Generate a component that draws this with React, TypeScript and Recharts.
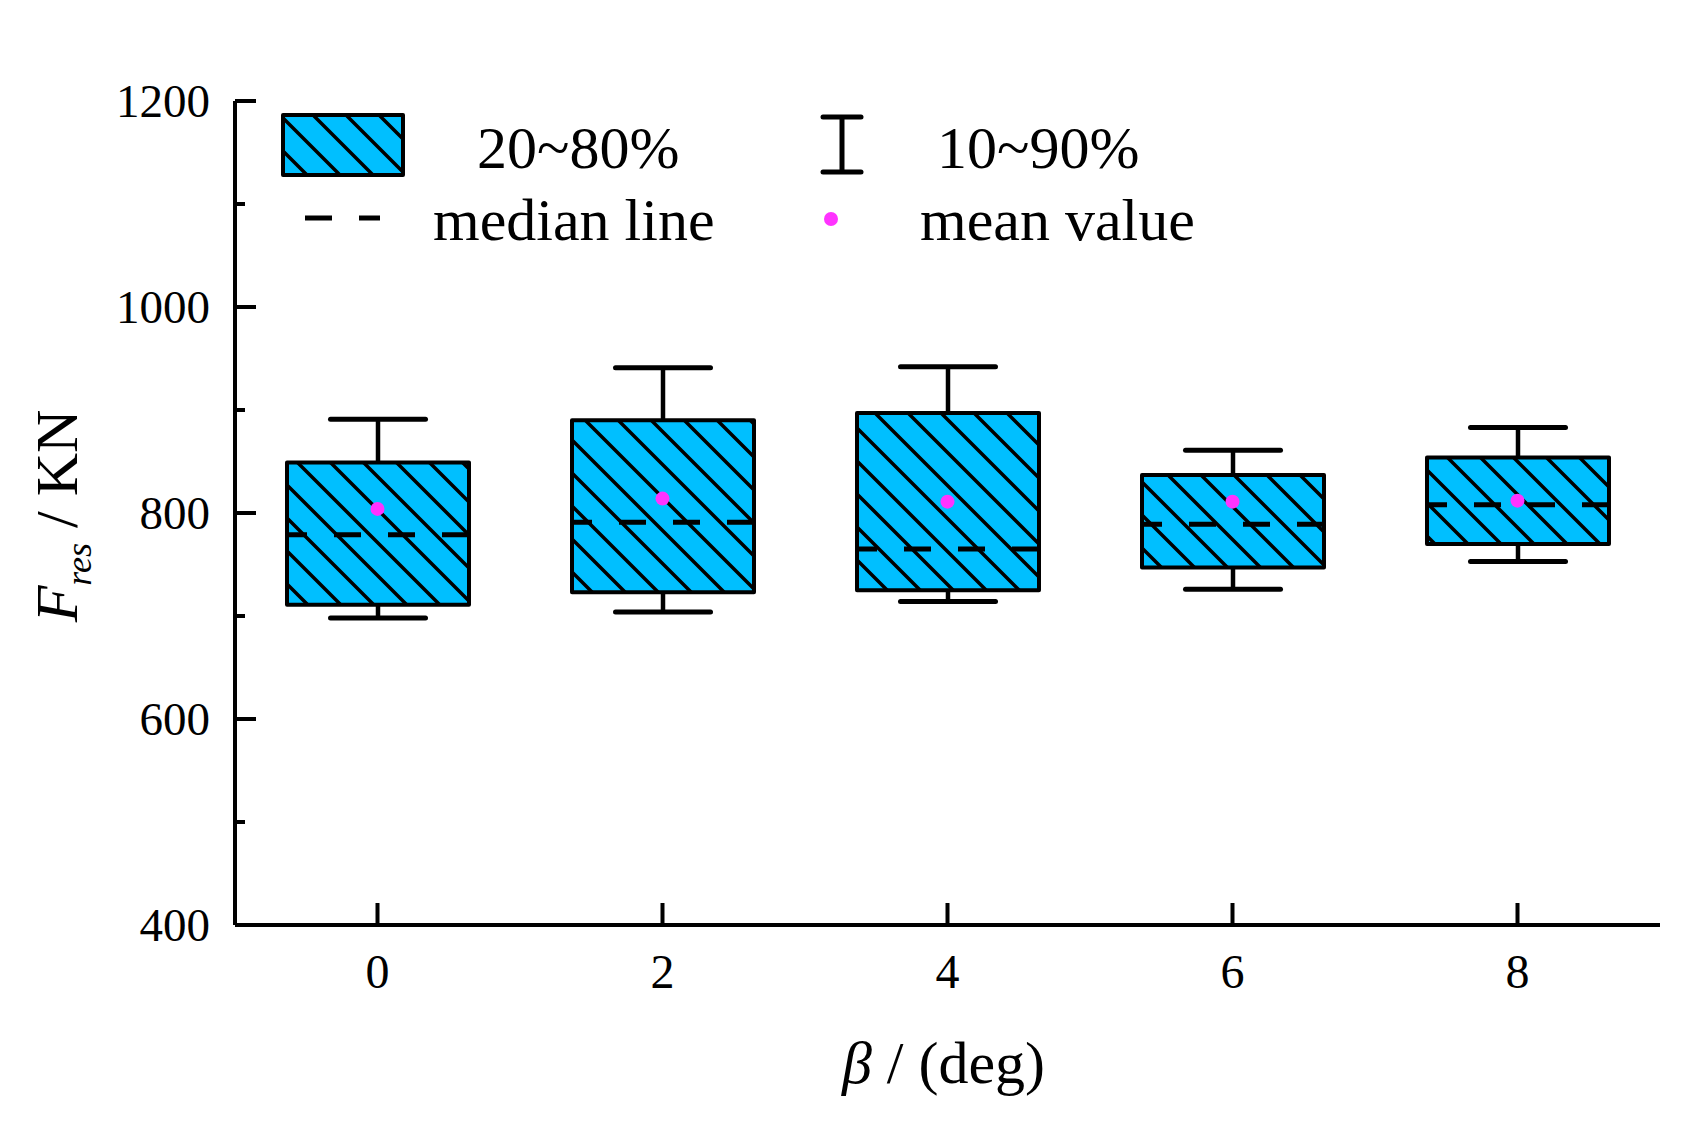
import { ComposedChart, Bar, Scatter, XAxis, YAxis, Legend } from 'recharts'

const categories = ['0', '2', '4', '6', '8']
const p10 = [698, 704, 714, 726, 753]
const p20 = [711, 723, 725, 747, 770]
const median = [779, 791, 765, 789, 808]
const p80 = [849, 890, 897, 837, 854]
const p90 = [891, 941, 942, 861, 883]
const mean = [804, 814, 811, 811, 812]
const yTicks = [400, 500, 600, 700, 800, 900, 1000, 1100, 1200]

const data = categories.map((beta, i) => ({
  beta,
  p10: p10[i],
  p20: p20[i],
  median: median[i],
  p80: p80[i],
  p90: p90[i],
  mean: mean[i],
}))

const FONT = '"Liberation Serif", "Times New Roman", serif'
const CYAN = '#00BFFF'
const PINK = '#FF33FF'

// box + whiskers, positioned from the bar's own [p10, p90] pixel range
function BoxShape(props: any) {
  const { x, y, width, height, payload } = props
  const top = Math.min(y, y + height)
  const h = Math.abs(height)
  const k = h / (payload.p90 - payload.p10)
  const py = (v: number) => top + (payload.p90 - v) * k
  const cx = x + width / 2
  const cap = 47.5
  const boxTop = py(payload.p80)
  const boxBot = py(payload.p20)
  return (
    <g>
      <line x1={cx} x2={cx} y1={py(payload.p90)} y2={boxTop} stroke="#000" strokeWidth={4.5} />
      <line x1={cx} x2={cx} y1={boxBot} y2={py(payload.p10)} stroke="#000" strokeWidth={4.5} />
      <line x1={cx - cap} x2={cx + cap} y1={py(payload.p90)} y2={py(payload.p90)} stroke="#000" strokeWidth={5} strokeLinecap="round" />
      <line x1={cx - cap} x2={cx + cap} y1={py(payload.p10)} y2={py(payload.p10)} stroke="#000" strokeWidth={5} strokeLinecap="round" />
      <rect x={x} y={boxTop} width={width} height={boxBot - boxTop} fill="url(#hatch)" stroke="#000" strokeWidth={4} strokeLinejoin="round" />
      <line
        x1={x} x2={x + width} y1={py(payload.median)} y2={py(payload.median)}
        stroke="#000" strokeWidth={5} strokeDasharray="27 27" strokeDashoffset={7}
      />
    </g>
  )
}

function YTick(props: any) {
  const { x, y, payload } = props
  const major = payload.value % 200 === 0
  return (
    <g>
      <line x1={x} x2={x + (major ? 21 : 10)} y1={y} y2={y} stroke="#000" strokeWidth={4} />
      {major && (
        <text x={x - 25} y={y} dy="0.35em" textAnchor="end" fontFamily={FONT} fontSize={47} fill="#000">
          {payload.value}
        </text>
      )}
    </g>
  )
}

function XTick(props: any) {
  const { x, y, payload } = props
  return (
    <g>
      <line x1={x} x2={x} y1={y} y2={y - 22} stroke="#000" strokeWidth={4} />
      <text x={x} y={y + 63} textAnchor="middle" fontFamily={FONT} fontSize={48} fill="#000">
        {payload.value}
      </text>
    </g>
  )
}

function XLabel(props: any) {
  const { viewBox } = props
  return (
    <text x={viewBox.x + viewBox.width / 2 - 4} y={1083} textAnchor="middle" fontFamily={FONT} fontSize={60} fill="#000">
      <tspan fontStyle="italic">β</tspan>
      <tspan> / (deg)</tspan>
    </text>
  )
}

function YLabel(props: any) {
  const { viewBox } = props
  const cy = viewBox.y + viewBox.height / 2 + 3
  return (
    <text x={77} y={cy} transform={`rotate(-90 77 ${cy})`} textAnchor="middle" fontFamily={FONT} fontSize={60} fill="#000">
      <tspan fontStyle="italic">F</tspan>
      <tspan fontStyle="italic" fontSize={36} dy={14}>res</tspan>
      <tspan dy={-14}> / KN</tspan>
    </text>
  )
}

function LegendBox() {
  return (
    <svg width={1701} height={300} style={{ display: 'block' }}>
      <rect x={283} y={115} width={120} height={60} fill="url(#hatch)" stroke="#000" strokeWidth={4} strokeLinejoin="round" />
      <text x={477} y={168} fontFamily={FONT} fontSize={60} fill="#000">20~80%</text>
      <line x1={842} x2={842} y1={117} y2={172} stroke="#000" strokeWidth={5} />
      <line x1={823} x2={861} y1={117} y2={117} stroke="#000" strokeWidth={5} strokeLinecap="round" />
      <line x1={823} x2={861} y1={172} y2={172} stroke="#000" strokeWidth={5} strokeLinecap="round" />
      <text x={937} y={168} fontFamily={FONT} fontSize={60} fill="#000">10~90%</text>
      <line x1={305} x2={380} y1={218} y2={218} stroke="#000" strokeWidth={5} strokeDasharray="27 27" />
      <text x={433} y={240} fontFamily={FONT} fontSize={60} fill="#000">median line</text>
      <circle cx={831} cy={219} r={7} fill={PINK} />
      <text x={920} y={240} fontFamily={FONT} fontSize={60} fill="#000">mean value</text>
    </svg>
  )
}

export default function App() {
  return (
    <div style={{ position: 'absolute', left: 0, top: 0, width: 1701, height: 1125, background: '#fff' }}>
      <svg width={0} height={0} style={{ position: 'absolute' }}>
        <defs>
          <pattern id="hatch" patternUnits="userSpaceOnUse" width={33} height={33}>
            <rect width={33} height={33} fill={CYAN} />
            <path d="M0,0 L33,33 M-8,25 L8,41 M25,-8 L41,8" stroke="#000" strokeWidth={3.5} />
          </pattern>
        </defs>
      </svg>
      <ComposedChart width={1701} height={1125} data={data} margin={{ top: 101, right: 41, bottom: 0, left: 0 }}>
        <XAxis
          dataKey="beta"
          type="category"
          height={200}
          tickSize={0}
          tickMargin={0}
          tickLine={false}
          axisLine={{ stroke: '#000', strokeWidth: 4 }}
          tick={<XTick />}
          interval={0}
          label={<XLabel />}
        />
        <YAxis
          type="number"
          domain={[400, 1200]}
          ticks={yTicks}
          interval={0}
          allowDataOverflow
          width={235}
          tickSize={0}
          tickMargin={0}
          tickLine={false}
          axisLine={{ stroke: '#000', strokeWidth: 4 }}
          tick={<YTick />}
          label={<YLabel />}
        />
        <Legend
          layout="horizontal"
          verticalAlign="middle"
          align="center"
          wrapperStyle={{ left: 0, top: 0, width: 1701, height: 300 }}
          content={() => <LegendBox />}
        />
        <Bar
          dataKey={(d: any) => [d.p10, d.p90]}
          barSize={182}
          isAnimationActive={false}
          shape={<BoxShape />}
          legendType="none"
        />
        <Scatter
          dataKey="mean"
          isAnimationActive={false}
          legendType="none"
          shape={(p: any) => <circle cx={p.cx} cy={p.cy} r={7} fill={PINK} />}
        />
      </ComposedChart>
    </div>
  )
}
